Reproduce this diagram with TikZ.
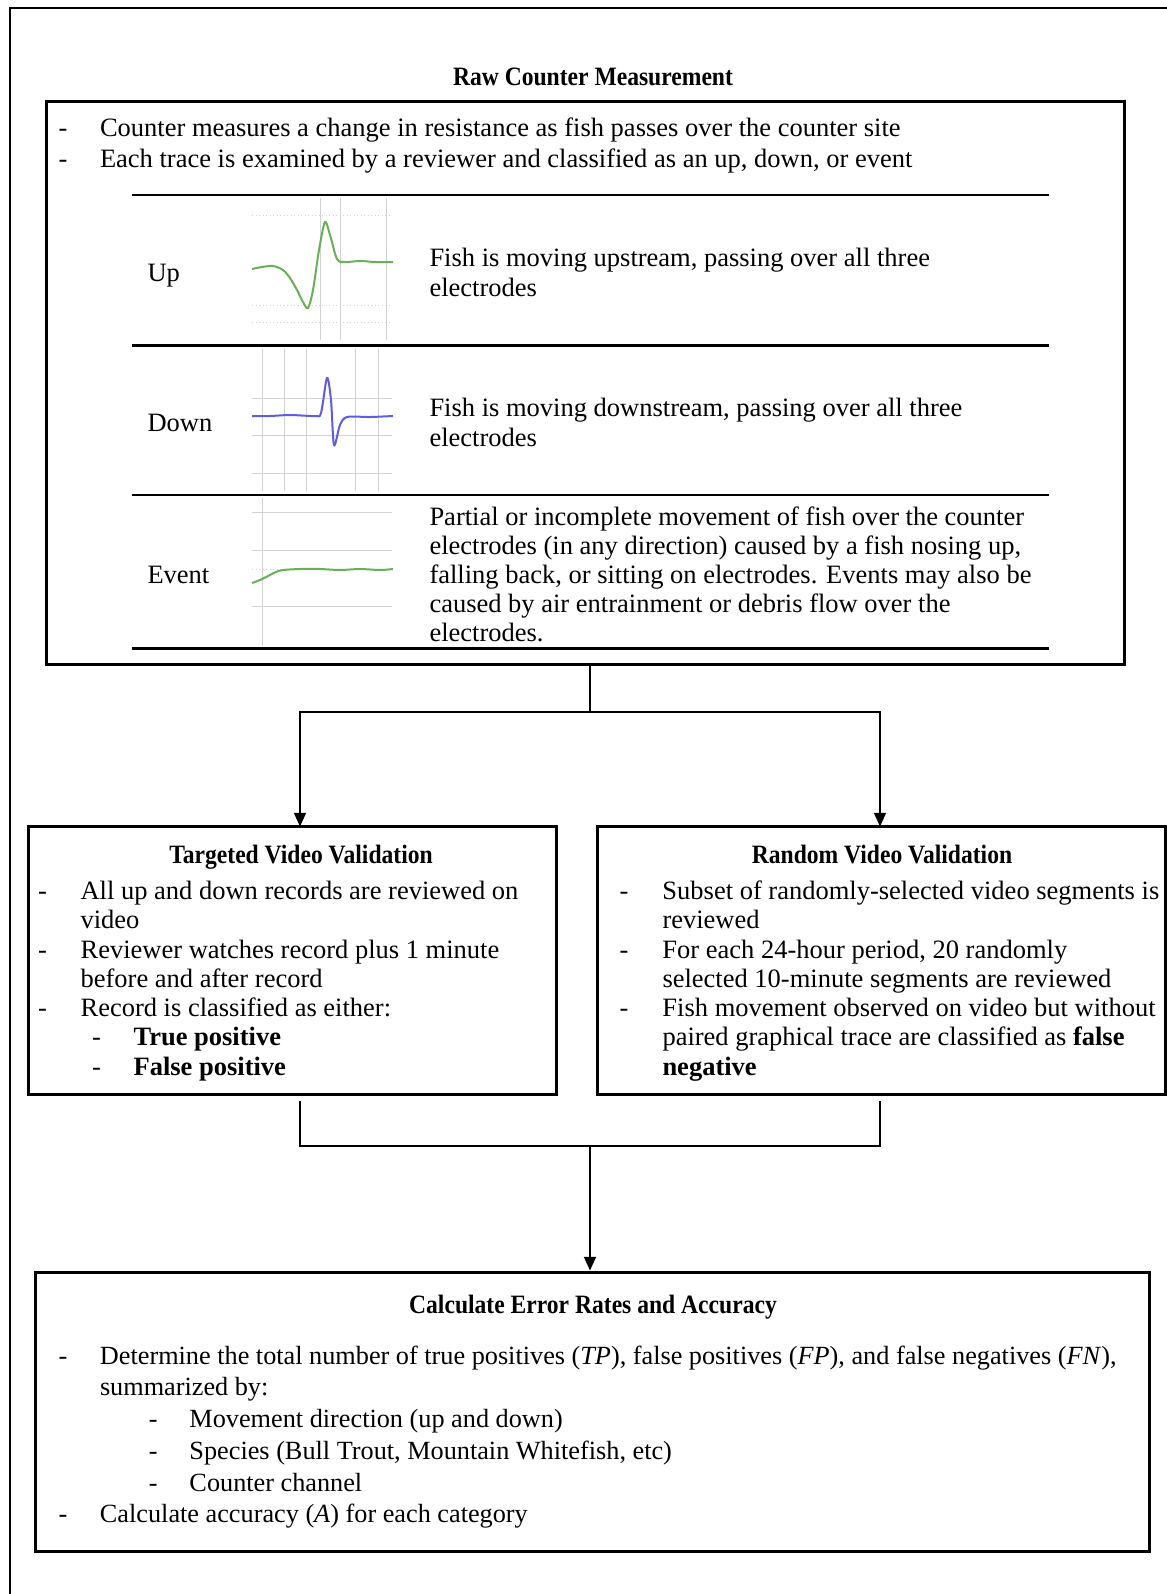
\documentclass[tikz,border=0pt]{standalone}
\usepackage{fontspec}
\setmainfont{Liberation Serif}
\newfontfamily\headfont{Liberation Serif}[FakeStretch=0.89]
\usetikzlibrary{arrows.meta}
\definecolor{upgreen}{RGB}{104,176,86}
\definecolor{downblue}{RGB}{92,92,228}

\begin{document}
\begin{tikzpicture}[x=0.4pt, y=0.4pt, font=\fontsize{10.6}{12.6}\selectfont,
  box/.style={draw, line width=1.2pt, inner sep=0pt},
  head/.style={anchor=base, inner sep=0pt, font=\fontsize{10.6}{12.6}\selectfont\headfont\bfseries},
  txt/.style={anchor=base west, inner sep=0pt, align=left},
  link/.style={line width=0.8pt},
  flow/.style={link, -{Triangle[length=5.5pt, width=4.8pt]}},
  hrule/.style={line width=1pt},
  gridline/.style={gray!35, line width=0.4pt},
  trace/.style={line width=0.8pt, smooth}]
\useasboundingbox (0,0) rectangle (1167,-1594);
\draw[line width=0.8pt] (10,-1600) -- (10,-8) -- (1180,-8);

% raw counter measurement
\node[head] (rawtitle) at (593,-85) {Raw Counter Measurement};
\node[box, minimum width=430.8pt, minimum height=225.2pt] (raw) at (585.5,-382.5) {};
\node[txt] (rawlist) at (58,-136) {\begin{tabular}[t]{@{}p{16.6pt}@{}l@{}}
-&Counter measures a change in resistance as fish passes over the counter site\\
-&Each trace is examined by a reviewer and classified as an up, down, or event
\end{tabular}};
\foreach \y in {195,345.6,495,648.6}{\draw[hrule] (132,-\y) -- (1049,-\y);}
\foreach \y/\name in {281/Up, 431/Down, 583/Event}{\node[txt] (lab\name) at (147,-\y) {\name};}
\node[txt, font=\fontsize{10.6}{12}\selectfont] (descup) at (429,-266) {\begin{tabular}[t]{@{}l@{}}Fish is moving upstream, passing over all three\\electrodes\end{tabular}};
\node[txt, font=\fontsize{10.6}{12}\selectfont] (descdown) at (429,-416) {\begin{tabular}[t]{@{}l@{}}Fish is moving downstream, passing over all three\\electrodes\end{tabular}};
\node[txt, font=\fontsize{10.6}{11.6}\selectfont] (descevent) at (429,-525) {\begin{tabular}[t]{@{}l@{}}Partial or incomplete movement of fish over the counter\\electrodes (in any direction) caused by a fish nosing up,\\falling back, or sitting on electrodes. Events may also be\\caused by air entrainment or debris flow over the\\electrodes.\end{tabular}};

% trace pictures
\foreach \y in {215,305,322}{\draw[gridline, densely dotted] (252,-\y) -- (392,-\y);}
\foreach \x in {320,340,386}{\draw[gridline] (\x,-198) -- (\x,-340);}
\draw[trace, upgreen] plot coordinates {(252,-269) (262,-267) (273,-266) (283,-270) (290,-278) (297,-290) (303,-302) (308,-308) (313,-290) (319,-250) (325,-222) (330,-235) (337,-259) (345,-262) (360,-261) (375,-262) (393,-262)};
\foreach \y in {398,435,473}{\draw[gridline] (252,-\y) -- (392,-\y);}
\foreach \x in {262,284,306,355,378}{\draw[gridline] (\x,-349) -- (\x,-491);}
\draw[trace, downblue] plot coordinates {(252,-416) (270,-416) (290,-415) (315,-416) (321,-413) (327,-378) (331,-400) (334,-445) (340,-425) (347,-417) (370,-417) (393,-416)};
\foreach \y in {512,550,606}{\draw[gridline] (252,-\y) -- (392,-\y);}
\draw[gridline, densely dotted] (252,-569) -- (392,-569);
\foreach \x in {262}{\draw[gridline] (\x,-498) -- (\x,-646);}
\draw[trace, upgreen] plot coordinates {(252,-583) (260,-580) (268,-576) (276,-572) (283,-570) (300,-569) (320,-569) (340,-570) (360,-569) (380,-570) (393,-569)};

% validation boxes
\node[box, minimum width=211pt, minimum height=107pt] (targeted) at (292.25,-960.25) {};
\node[box, minimum width=227.4pt, minimum height=107pt] (random) at (881.25,-960.25) {};
\node[head] (tgttitle) at (301,-863) {Targeted Video Validation};
\node[head] (rndtitle) at (882,-863) {Random Video Validation};
\node[txt, font=\fontsize{10.6}{11.7}\selectfont] (tgtlist) at (37.6,-899.5) {\begin{tabular}[t]{@{}p{17pt}@{}l@{}}
-&All up and down records are reviewed on\\
&video\\
-&Reviewer watches record plus 1 minute\\
&before and after record\\
-&Record is classified as either:\\
&\makebox[21.2pt][l]{\hspace{4.6pt}-}\textbf{True positive}\\
&\makebox[21.2pt][l]{\hspace{4.6pt}-}\textbf{False positive}
\end{tabular}};
\node[txt, font=\fontsize{10.6}{11.7}\selectfont] (rndlist) at (619,-899.5) {\begin{tabular}[t]{@{}p{17.2pt}@{}l@{}}
-&Subset of randomly-selected video segments is\\
&reviewed\\
-&For each 24-hour period, 20 randomly\\
&selected 10-minute segments are reviewed\\
-&Fish movement observed on video but without\\
&paired graphical trace are classified as \textbf{false}\\
&\textbf{negative}
\end{tabular}};

% error rates
\node[box, minimum width=445.4pt, minimum height=111.6pt] (calc) at (592.3,-1411.5) {};
\node[head] (calctitle) at (593,-1313) {Calculate Error Rates and Accuracy};
\node[txt, font=\fontsize{10.5}{12.7}\selectfont] (calclist) at (58,-1364) {\begin{tabular}[t]{@{}p{16.6pt}@{}l@{}}
-&Determine the total number of true positives (\textit{TP}), false positives (\textit{FP}), and false negatives (\textit{FN}),\\
&summarized by:\\
&\makebox[35.8pt][l]{\hspace{19.5pt}-}Movement direction (up and down)\\
&\makebox[35.8pt][l]{\hspace{19.5pt}-}Species (Bull Trout, Mountain Whitefish, etc)\\
&\makebox[35.8pt][l]{\hspace{19.5pt}-}Counter channel\\
-&Calculate accuracy (\textit{A}) for each category
\end{tabular}};

% connectors
\coordinate (split) at (590,-712);
\coordinate (tgtin) at (300,-826.5);
\coordinate (rndin) at (880,-826.5);
\coordinate (tgtout) at (300,-1101);
\coordinate (rndout) at (880,-1101);
\coordinate (merge) at (590,-1146);
\draw[link] (split |- raw.south) -- (split);
\draw[flow] (split) -| (tgtin);
\draw[flow] (split) -| (rndin);
\draw[link] (tgtout) |- (merge) -| (rndout);
\draw[flow] (merge) -- (merge |- calc.north);
\end{tikzpicture}
\end{document}
